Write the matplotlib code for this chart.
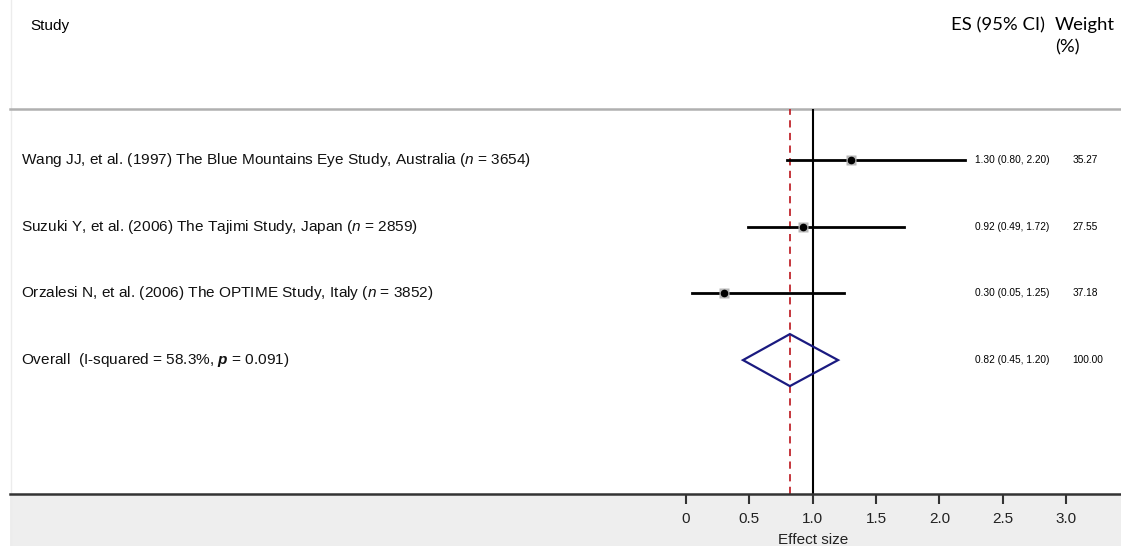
import matplotlib
matplotlib.use("Agg")
import matplotlib.pyplot as plt
from matplotlib.patches import Polygon, Rectangle

plt.rcParams['font.family'] = ['Liberation Sans', 'DejaVu Sans']
plt.rcParams['mathtext.fontset'] = 'custom'
plt.rcParams['mathtext.rm'] = 'Liberation Sans'
plt.rcParams['mathtext.it'] = 'Liberation Sans:italic'
plt.rcParams['mathtext.bf'] = 'Liberation Sans:bold'
plt.rcParams['mathtext.bfit'] = 'Liberation Sans:bold:italic'

# data
studies = [
    r"Wang JJ, et al. (1997) The Blue Mountains Eye Study, Australia ($\mathit{n}$ = 3654)",
    r"Suzuki Y, et al. (2006) The Tajimi Study, Japan ($\mathit{n}$ = 2859)",
    r"Orzalesi N, et al. (2006) The OPTIME Study, Italy ($\mathit{n}$ = 3852)",
]
es = [1.30, 0.92, 0.30]
lo = [0.80, 0.49, 0.05]
hi = [2.20, 1.72, 1.25]
weights = [35.27, 27.55, 37.18]
overall_label = r"Overall  (I-squared = 58.3%, $\mathbfit{p}$ = 0.091)"
overall_es, overall_lo, overall_hi = 0.82, 0.45, 1.20
xticks = [0, 0.5, 1.0, 1.5, 2.0, 2.5, 3.0]
xticklabels = ["0", "0.5", "1.0", "1.5", "2.0", "2.5", "3.0"]

W, H = 1121, 546
fig = plt.figure(figsize=(W / 100, H / 100), dpi=100)

# pixel helpers
def fx(px):
    return px / W

def fy(py):
    return 1 - py / H

# grey band under the axis
fig.patches.append(Rectangle((fx(10), 0), 1 - fx(10), fy(494), transform=fig.transFigure,
                             facecolor='#eeeeee', edgecolor='none', zorder=-5))
# faint left border
fig.add_artist(plt.Line2D([fx(10.5), fx(10.5)], [fy(0), fy(546)], transform=fig.transFigure,
                          color='#ececec', lw=1, zorder=-4))
# header rule
fig.add_artist(plt.Line2D([fx(10), 1], [fy(109), fy(109)], transform=fig.transFigure,
                          color='#b0b0b0', lw=1.8))

ax = fig.add_axes([fx(10), fy(494), 1 - fx(10), (494 - 109) / H])
ax.patch.set_alpha(0)
ax.set_zorder(2)

# x: pixel 686 -> 0, 126.7 px per unit
ppu = 126.7
x0, x1 = (10 - 686) / ppu, (1121 - 686) / ppu
ax.set_xlim(x0, x1)
row_px = 66.7
ax.set_ylim((494 - 160) / row_px, (109 - 160) / row_px)

for s in ['top', 'right', 'left']:
    ax.spines[s].set_visible(False)
ax.spines['bottom'].set_color('#333333')
ax.spines['bottom'].set_linewidth(1.8)

ax.set_xticks(xticks)
ax.set_xticklabels(xticklabels, fontsize=11, color='#222222')
ax.tick_params(axis='x', length=7, width=1.5, color='#333333', pad=6)
ax.set_yticks([])
ax.set_xlabel("Effect size", fontsize=11, color='#222222')
ax.xaxis.set_label_coords((1.0 - x0) / (x1 - x0), -0.12)
ax.xaxis.label.set_va('center')

# reference lines
ax.axvline(1.0, color='black', lw=1.5, zorder=2)
ax.axvline(overall_es, color='#c0262d', lw=1.3, ls=(0, (4, 3)), zorder=2)

rows = list(range(len(studies)))
for i in rows:
    ax.plot([lo[i], hi[i]], [i, i], color='black', lw=2, zorder=3)
    ax.plot(es[i], i, marker='s', ms=1.25 * weights[i] ** 0.5, color='#b8b8b8', mec='none', zorder=4)
    ax.plot(es[i], i, marker='o', ms=4.5, color='black', zorder=5)
    ax.text(-5.25, i, studies[i], fontsize=11.1, va='center', ha='left', color='#111111')
    ax.text(2.28, i, "%.2f (%.2f, %.2f)" % (es[i], lo[i], hi[i]), fontsize=7.3, va='center', ha='left')
    ax.text(3.05, i, "%.2f" % weights[i], fontsize=7.3, va='center', ha='left')

oi = len(studies)
dh = 0.39
diamond = Polygon([[overall_lo, oi], [overall_es, oi - dh], [overall_hi, oi], [overall_es, oi + dh]],
                  closed=True, fill=False, edgecolor='#1a1a80', lw=1.6, zorder=4)
ax.add_patch(diamond)
ax.text(-5.25, oi, overall_label, fontsize=11.1, va='center', ha='left', color='#111111')
ax.text(2.28, oi, "%.2f (%.2f, %.2f)" % (overall_es, overall_lo, overall_hi), fontsize=7.3, va='center', ha='left')
ax.text(3.05, oi, "%.2f" % 100.0, fontsize=7.3, va='center', ha='left')

# headers
fig.text(fx(30), fy(26), "Study", fontsize=11, va='center', ha='left')
fig.text(fx(1045), fy(25), "ES (95% CI)", fontsize=13.3, va='center', ha='right', family=['Lato', 'DejaVu Sans'])
fig.text(fx(1055), fy(25), "Weight", fontsize=13.3, va='center', ha='left', family=['Lato', 'DejaVu Sans'])
fig.text(fx(1055), fy(47), "(%)", fontsize=13.3, va='center', ha='left', family=['Lato', 'DejaVu Sans'])

fig.savefig("out.png", dpi=100)
